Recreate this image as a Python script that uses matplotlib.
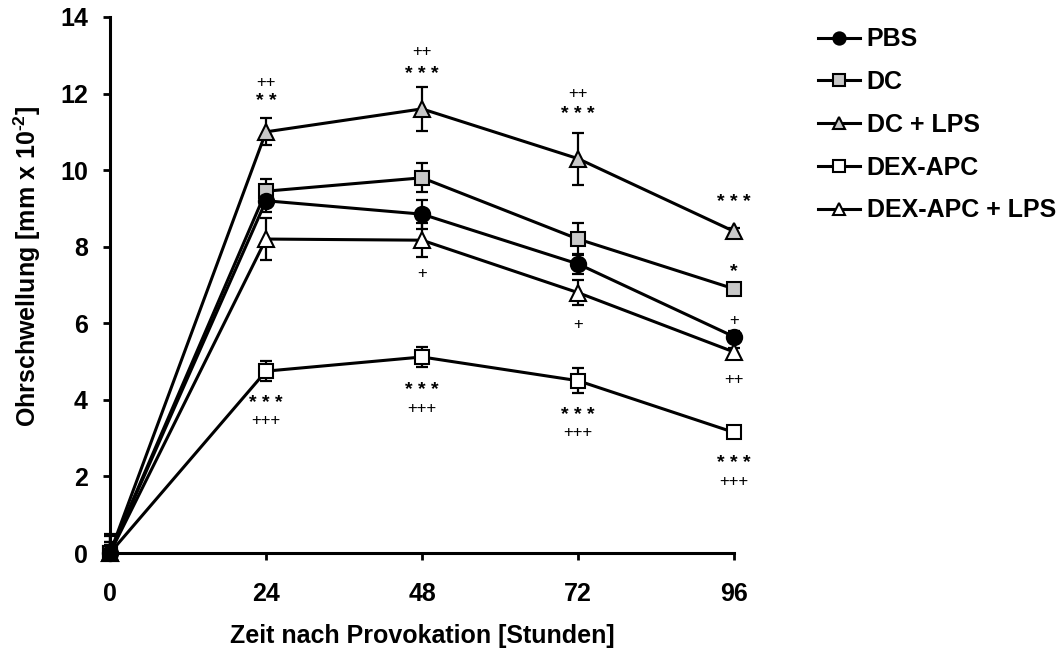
import matplotlib
matplotlib.use("Agg")
import matplotlib.pyplot as plt

plt.rcParams['font.family'] = ['Liberation Sans', 'DejaVu Sans']
plt.rcParams['mathtext.fontset'] = 'custom'
plt.rcParams['mathtext.rm'] = 'Liberation Sans:bold'
plt.rcParams['mathtext.default'] = 'rm'

hours = [0, 24, 48, 72, 96]

pbs = [0, 9.2, 8.85, 7.55, 5.65]
pbs_err = [0.5, 0.3, 0.38, 0.27, 0.15]
dc = [0, 9.45, 9.8, 8.2, 6.9]
dc_err = [0.45, 0.33, 0.38, 0.42, 0.15]
dc_lps = [0, 11.0, 11.6, 10.3, 8.4]
dc_lps_err = [0.3, 0.35, 0.58, 0.68, 0.1]
dex = [0, 4.75, 5.12, 4.5, 3.15]
dex_err = [0.2, 0.27, 0.25, 0.32, 0.1]
dex_lps = [0, 8.2, 8.17, 6.8, 5.25]
dex_lps_err = [0.3, 0.55, 0.45, 0.32, 0.1]

# (label, values, errors, marker, face colour, zorder)
groups = [
    ("PBS", pbs, pbs_err, "o", "black", 8),
    ("DC", dc, dc_err, "s", "#c8c8c8", 7),
    ("DC + LPS", dc_lps, dc_lps_err, "^", "#c8c8c8", 6),
    ("DEX-APC", dex, dex_err, "s", "white", 5),
    ("DEX-APC + LPS", dex_lps, dex_lps_err, "^", "white", 4),
]

# significance marks vs PBS (stars) and vs DC (plus signs)
stars = [
    (24, 11.8, "* *"), (48, 12.5, "* * *"), (72, 11.45, "* * *"), (96, 9.15, "* * *"),
    (96, 7.35, "*"),
    (24, 3.9, "* * *"), (48, 4.25, "* * *"), (72, 3.6, "* * *"), (96, 2.33, "* * *"),
]
pluses = [
    (24, 12.3, "++"), (48, 13.1, "++"), (72, 12.0, "++"),
    (48, 7.3, "+"), (72, 5.98, "+"), (96, 6.08, "+"), (96, 4.52, "++"),
    (24, 3.47, "+++"), (48, 3.78, "+++"), (72, 3.14, "+++"), (96, 1.86, "+++"),
]

fig = plt.figure(figsize=(10.61, 6.48), dpi=100)
ax = fig.add_axes([0.1037, 0.1466, 0.5881, 0.8272])

for label, vals, err, mk, fc, z in groups:
    # only the upper whisker is shown at baseline
    lower = [0 if h == 0 else e for h, e in zip(hours, err)]
    ax.errorbar(hours, vals, yerr=[lower, err], fmt="none", ecolor="black",
                elinewidth=1.6, capsize=4, capthick=1.6, zorder=2, clip_on=False)
    ms = 11 if mk == "o" else (10 if mk == "s" else 11.5)
    ax.plot(hours, vals, marker=mk, color="black", lw=2.2, ms=ms, mfc=fc,
            mec="black", mew=1.5, label=label, zorder=z, clip_on=False)

for x, y, t in stars:
    ax.text(x, y, t, ha="center", va="center", fontsize=14, fontweight="bold")
for x, y, t in pluses:
    ax.text(x, y, t, ha="center", va="center", fontsize=12)

ax.set_xlim(0, 96)
ax.set_ylim(0, 14)
ax.set_xticks(hours)
ax.set_yticks(range(0, 15, 2))
for s in ("top", "right"):
    ax.spines[s].set_visible(False)
for s in ("left", "bottom"):
    ax.spines[s].set_linewidth(2.2)
ax.tick_params(axis="both", direction="out", length=5, width=2, labelsize=18)
ax.tick_params(axis="x", pad=16)
ax.tick_params(axis="y", pad=11)
for lab in ax.get_xticklabels() + ax.get_yticklabels():
    lab.set_fontweight("bold")

ax.set_xlabel("Zeit nach Provokation [Stunden]", fontsize=18, fontweight="bold")
ax.set_ylabel("Ohrschwellung [mm x 10$^{\u20102}$]", fontsize=18, fontweight="bold")
ax.xaxis.set_label_coords(0.5, -0.132)
ax.yaxis.set_label_coords(-0.107, 0.535)

handles, labels = ax.get_legend_handles_labels()
leg = fig.legend(handles, labels, loc="upper left", bbox_to_anchor=(0.759, 0.977),
                 frameon=False, fontsize=18, handlelength=1.7, handletextpad=0.25,
                 labelspacing=0.75, borderpad=0, markerscale=0.8)
for t in leg.get_texts():
    t.set_fontweight("bold")

fig.savefig("out.png", dpi=100)
